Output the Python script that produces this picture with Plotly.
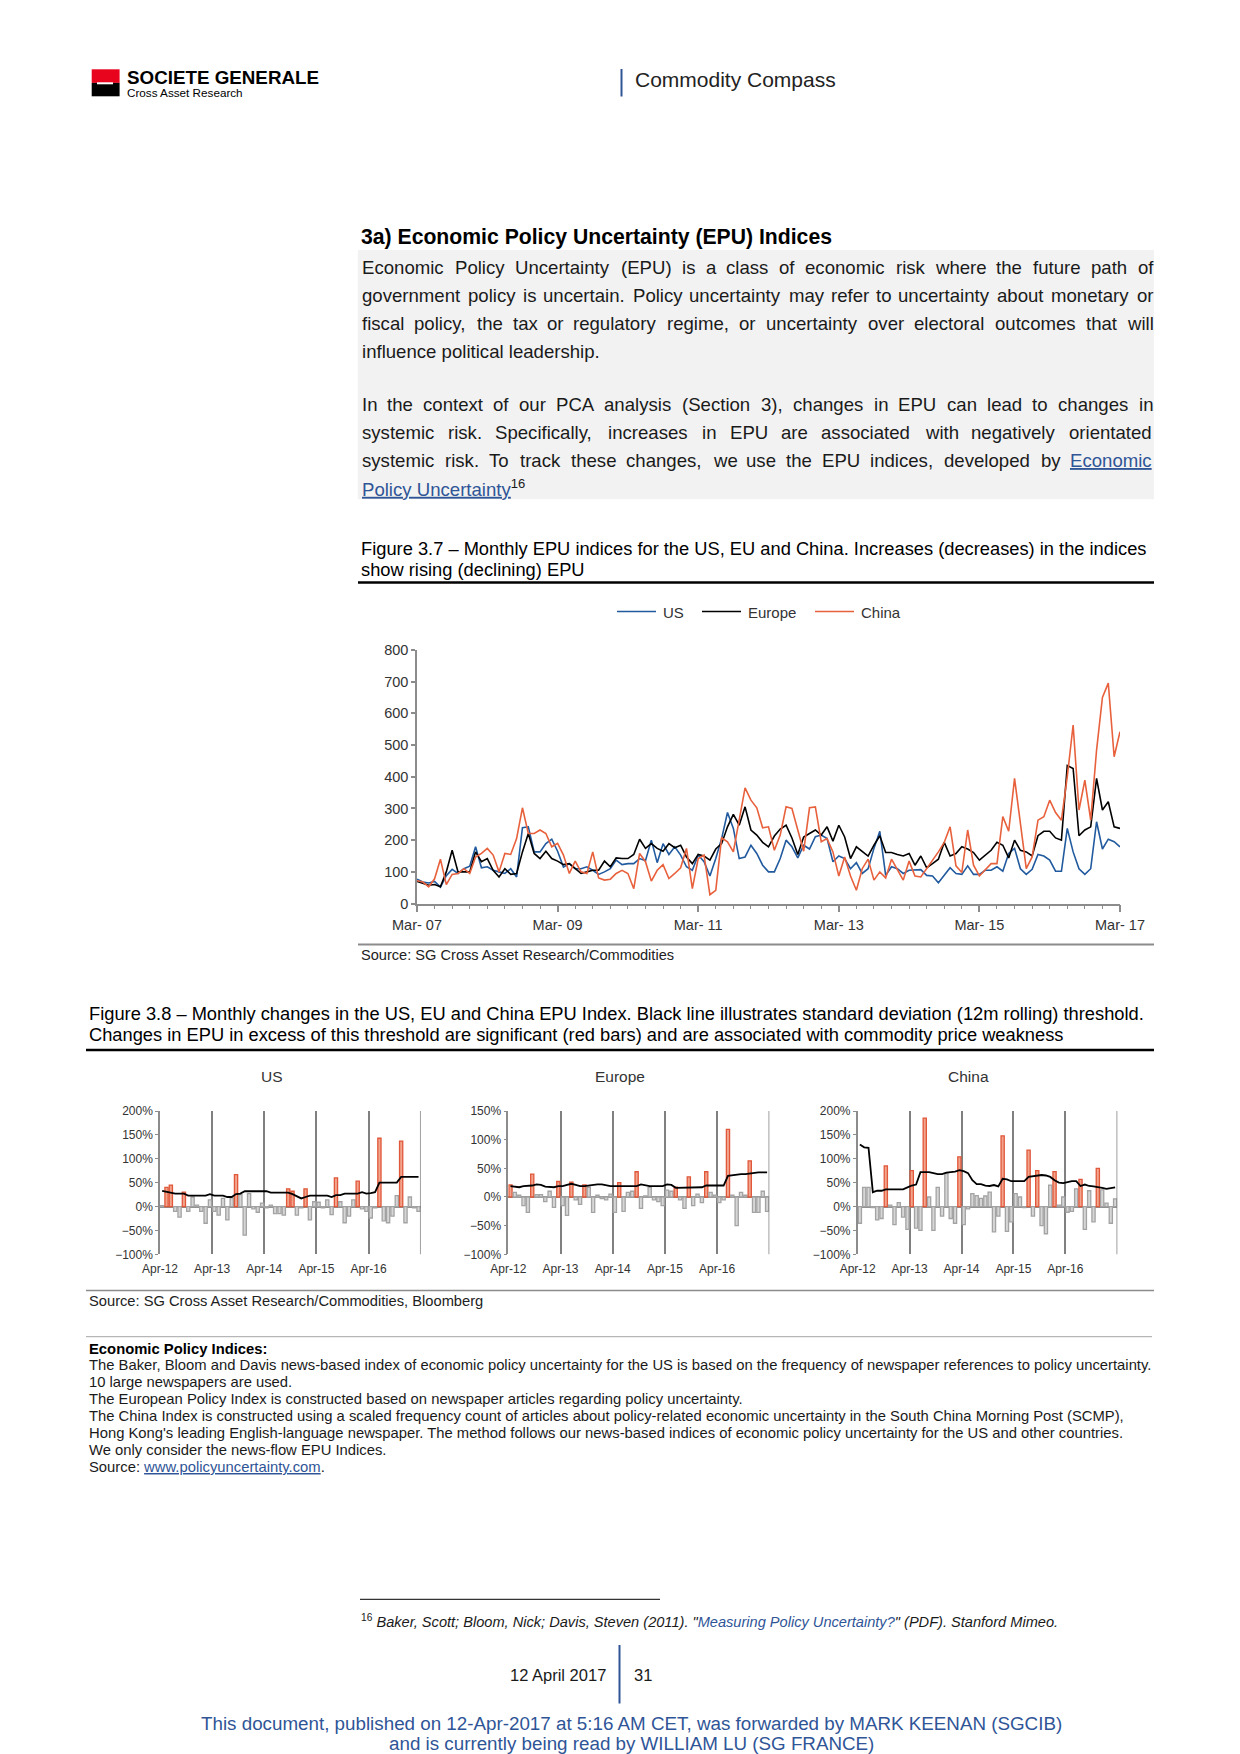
import plotly.graph_objects as go

# ---------------- DATA ----------------
main_months = list(range(121))  # Mar-07 ... Mar-17
main_tick_vals = [0, 24, 48, 72, 96, 120]
main_tick_text = ["Mar- 07", "Mar- 09", "Mar- 11", "Mar- 13", "Mar- 15", "Mar- 17"]

us_epu = [77, 68, 65, 70, 52, 88, 108, 95, 110, 118, 179, 113, 116, 105, 100, 95, 110, 84, 239, 242,
          163, 163, 189, 203, 165, 115, 126, 110, 110, 116, 105, 92, 100, 110, 137, 123, 126, 126, 142, 135,
          200, 129, 189, 155, 179, 153, 116, 105, 153, 132, 87, 142, 205, 287, 237, 142, 147, 184, 158, 121,
          100, 100, 142, 200, 179, 144, 184, 172, 211, 216, 205, 132, 150, 142, 110, 129, 95, 110, 174, 228,
          89, 116, 110, 95, 105, 105, 107, 89, 87, 66, 89, 113, 95, 92, 119, 92, 92, 105, 105, 116,
          102, 158, 174, 110, 92, 108, 155, 150, 137, 102, 102, 237, 163, 110, 92, 110, 258, 172, 203, 195,
          179]
europe_epu = [70, 63, 58, 60, 53, 100, 168, 100, 100, 100, 163, 132, 142, 105, 84, 110, 92, 95, 163, 221,
              158, 142, 165, 142, 134, 123, 126, 110, 95, 100, 105, 105, 134, 116, 144, 142, 142, 155, 203, 174,
              189, 174, 165, 189, 176, 184, 147, 126, 155, 150, 137, 172, 189, 242, 281, 247, 305, 232, 216, 193,
              179, 213, 235, 247, 207, 155, 210, 221, 232, 216, 242, 197, 247, 210, 142, 179, 165, 150, 184, 214,
              161, 161, 155, 150, 158, 121, 150, 113, 126, 140, 193, 150, 158, 179, 172, 161, 137, 153, 168, 193,
              184, 144, 200, 168, 163, 150, 214, 228, 228, 207, 200, 435, 426, 214, 232, 242, 395, 295, 321, 242,
              237]
china_epu = [72, 68, 53, 78, 140, 60, 92, 95, 110, 95, 147, 158, 174, 153, 100, 158, 155, 205, 302, 221,
             221, 232, 221, 179, 190, 153, 95, 134, 100, 95, 163, 81, 74, 77, 95, 105, 95, 47, 158, 132,
             71, 105, 123, 79, 95, 113, 174, 47, 142, 153, 28, 42, 207, 195, 163, 263, 365, 326, 302, 239,
             242, 168, 216, 305, 300, 232, 165, 302, 305, 195, 205, 163, 87, 147, 87, 42, 110, 140, 74, 100,
             81, 140, 105, 74, 134, 87, 84, 110, 140, 163, 193, 242, 119, 98, 232, 121, 87, 105, 126, 126,
             274, 228, 395, 253, 110, 147, 263, 274, 326, 287, 263, 400, 563, 295, 389, 263, 484, 650, 695, 463,
             542]

small_tick_vals = [0, 12, 24, 36, 48]
small_tick_text = ["Apr-12", "Apr-13", "Apr-14", "Apr-15", "Apr-16"]

us_change = [2, 40, 45, -10, -22, 30, -10, 20, 3, -10, -35, 14, -10, -18, 17, -28, 18, 67, 25, -60,
             27, -5, -12, 7, -3, 3, -15, -15, -18, 37, 32, -18, -3, 37, -28, 10, 9, -3, 14, -17,
             60, 10, -34, -20, 14, 53, -5, -10, -24, -3, 143, -30, -34, -20, 23, 137, -34, 20, -3, -10]
us_threshold = [33, 31, 28, 27, 27, 27, 23, 23, 23, 23, 23, 26, 23, 23, 23, 20, 20, 26, 27, 32,
                32, 32, 32, 32, 32, 29, 29, 29, 29, 29, 26, 22, 17, 20, 23, 23, 23, 23, 23, 20,
                24, 24, 27, 27, 27, 27, 30, 27, 28, 30, 50, 50, 50, 50, 50, 62, 62, 62, 62, 62]

eu_change = [21, 8, 3, -15, -27, 40, 4, 4, -8, 10, -18, 27, -15, -32, 26, -5, -13, 21, 17, -27,
             3, -3, -5, 5, -27, 25, -25, 8, 10, 44, -20, 2, 17, -5, -8, -15, 12, 10, 17, -5,
             -20, 35, -15, 5, -10, 44, 8, 3, -10, -5, 118, 3, -50, 8, 3, 63, -27, -27, 10, -25]
eu_threshold = [19, 18, 17, 19, 19, 20, 22, 21, 18, 17, 17, 19, 19, 21, 23, 21, 19, 19, 20, 22,
                22, 22, 20, 19, 19, 19, 19, 19, 19, 19, 22, 20, 19, 19, 19, 19, 22, 21, 16, 16,
                17, 17, 17, 17, 17, 20, 20, 20, 20, 20, 37, 38, 40, 40, 40, 41, 43, 43, 43, 43]

cn_change = [-35, 40, 40, -2, -28, -25, 85, 3, -38, 8, -22, -48, 75, -45, -50, 185, 20, -50, 40, -20,
             69, -25, -35, 104, -38, -5, 27, 23, 17, 22, 30, -53, -20, 148, -52, -32, 27, 20, -2, 118,
             -20, 75, -40, -57, 45, 73, 3, 20, -12, -10, 37, 57, -48, 33, -32, 80, 35, 7, -35, 16]
cn_threshold = [130, 124, 123, 30, 33, 33, 36, 36, 36, 36, 36, 40, 44, 46, 72, 72, 72, 70, 68, 68,
                71, 72, 73, 76, 74, 70, 55, 47, 47, 44, 43, 45, 42, 58, 57, 53, 53, 53, 53, 62,
                63, 65, 66, 65, 62, 55, 50, 49, 51, 53, 53, 43, 46, 43, 42, 41, 39, 37, 39, 40]

# ---------------- PAGE GEOMETRY ----------------
W, H = 1240, 1754
FONT = "Liberation Sans, Arial, Helvetica, sans-serif"
TXT = "#1a1a1a"
BLUE = "#2F5597"
US_C, EU_C, CN_C = "#215A9E", "#000000", "#E8613D"


def px(x):
    return x / W


def py(y):
    return 1 - y / H


HELV = {' ': 278, '!': 278, '"': 355, '%': 889, "'": 191, '(': 333, ')': 333, ',': 278, '-': 333,
        '.': 278, '/': 278, ':': 278, ';': 278, '?': 556,
        'A': 667, 'B': 667, 'C': 722, 'D': 722, 'E': 667, 'F': 611, 'G': 778, 'H': 722, 'I': 278,
        'J': 500, 'K': 667, 'L': 556, 'M': 833, 'N': 722, 'O': 778, 'P': 667, 'Q': 778, 'R': 722,
        'S': 667, 'T': 611, 'U': 722, 'V': 667, 'W': 944, 'X': 667, 'Y': 667, 'Z': 611,
        'a': 556, 'b': 556, 'c': 500, 'd': 556, 'e': 556, 'f': 278, 'g': 556, 'h': 556, 'i': 222,
        'j': 222, 'k': 500, 'l': 222, 'm': 833, 'n': 556, 'o': 556, 'p': 556, 'q': 556, 'r': 333,
        's': 500, 't': 278, 'u': 556, 'v': 500, 'w': 722, 'x': 500, 'y': 500, 'z': 500}


def tw(s, size):
    return sum(HELV.get(c, 556) for c in s) / 1000.0 * size * 1.02


annotations = []
shapes = []


def txt(x, y, s, size, color=TXT, anchor="left", family=FONT):
    annotations.append(dict(x=px(x), y=py(y), xref="paper", yref="paper", text=s, showarrow=False,
                            xanchor=anchor, yanchor="middle", borderpad=0,
                            font=dict(family=family, size=size, color=color)))


def hline(x0, x1, y, color, width):
    shapes.append(dict(type="line", xref="paper", yref="paper", x0=px(x0), x1=px(x1), y0=py(y), y1=py(y),
                       line=dict(color=color, width=width)))


def vline(x, y0, y1, color, width):
    shapes.append(dict(type="line", xref="paper", yref="paper", x0=px(x), x1=px(x), y0=py(y0), y1=py(y1),
                       line=dict(color=color, width=width)))


def rect(x0, y0, x1, y1, color):
    shapes.append(dict(type="rect", xref="paper", yref="paper", x0=px(x0), x1=px(x1), y0=py(y1), y1=py(y0),
                       fillcolor=color, line=dict(width=0), layer="below"))


LINK = "color:%s;text-decoration:underline" % BLUE


def justify(words, x0, x1, y, size):
    widths = [tw(w[0], size) for w in words]
    gap = (x1 - x0 - sum(widths)) / (len(words) - 1)
    x = x0
    for (w, style), wd in zip(words, widths):
        s = w if style is None else "<span style='%s'>%s</span>" % (style, w)
        txt(x, y, s, size)
        x += wd + gap


def plain(line):
    return [(w, None) for w in line.split(" ")]


# ---------------- HEADER ----------------
rect(91.7, 69.3, 119.6, 82.9, "#E9041E")
rect(91.7, 82.9, 119.6, 96.3, "#000000")
hline(97, 113, 83.3, "#FFFFFF", 2)
txt(126, 77.5, "<b>SOCIETE GENERALE</b>", 18.8, "#000000")
txt(126, 92, "Cross Asset Research", 11.7, "#000000")
vline(621.5, 69, 96.5, BLUE, 2)
txt(634, 79.5, "Commodity Compass", 21, "#222222")

# ---------------- SECTION TEXT ----------------
txt(360, 237.3, "<b>3a) Economic Policy Uncertainty (EPU) Indices</b>", 21.2, "#000000")
rect(357.8, 250, 1153.9, 499.3, "#F2F2F2")
X0, X1 = 360.5, 1152.5
PS = 18.6
justify(plain("Economic Policy Uncertainty (EPU) is a class of economic risk where the future path of"), X0, X1, 267.7, PS)
justify(plain("government policy is uncertain. Policy uncertainty may refer to uncertainty about monetary or"), X0, X1, 295.8, PS)
justify(plain("fiscal policy, the tax or regulatory regime, or uncertainty over electoral outcomes that will"), X0, X1, 323.9, PS)
txt(X0, 351.7, "influence political leadership.", PS)
justify(plain("In the context of our PCA analysis (Section 3), changes in EPU can lead to changes in"), X0, X1, 404.3, PS)
justify(plain("systemic risk. Specifically, increases in EPU are associated with negatively orientated"), X0, X1, 432.5, PS)
justify(plain("systemic risk. To track these changes, we use the EPU indices, developed by") + [("Economic", LINK)],
        X0, X1, 460.7, PS)
txt(X0, 488.5, "<span style='%s'>Policy Uncertainty</span><sup>16</sup>" % LINK, PS)

# ---------------- FIGURE 3.7 CAPTION / FRAME ----------------
CAP = 18.3
txt(360, 548.5, "Figure 3.7 – Monthly EPU indices for the US, EU and China. Increases (decreases) in the indices", CAP, "#000000")
txt(360, 569.3, "show rising (declining) EPU", CAP, "#000000")
hline(358, 1154, 582.5, "#000000", 2.5)
hline(358, 1154, 944.5, "#8C8C8C", 2)
txt(360, 954.5, "Source: SG Cross Asset Research/Commodities", 14.6, "#222222")

for (lx, label, col) in [(617, "US", US_C), (702, "Europe", EU_C), (815, "China", CN_C)]:
    hline(lx, lx + 39, 611.5, col, 1.5)
    txt(lx + 45, 612, label, 15, "#333333")

# ---------------- FIGURE 3.8 CAPTION / FRAME ----------------
txt(88, 1013, "Figure 3.8 – Monthly changes in the US, EU and China EPU Index. Black line illustrates standard deviation (12m rolling) threshold.", CAP, "#000000")
txt(88, 1034.5, "Changes in EPU in excess of this threshold are significant (red bars) and are associated with commodity price weakness", CAP, "#000000")
hline(86, 1154, 1050, "#000000", 2.5)
txt(272, 1076, "US", 15.5, "#333333", anchor="center")
txt(620, 1076, "Europe", 15.5, "#333333", anchor="center")
txt(968, 1076, "China", 15.5, "#333333", anchor="center")
hline(86, 1154, 1290.5, "#8C8C8C", 1.5)
txt(88, 1300.5, "Source: SG Cross Asset Research/Commodities, Bloomberg", 14.7, "#222222")

# ---------------- NOTES ----------------
hline(86, 1152, 1336.7, "#A6A6A6", 1)
NS = 14.8
txt(88, 1348.5, "<b>Economic Policy Indices:</b>", NS, "#000000")
notes = [
    "The Baker, Bloom and Davis news-based index of economic policy uncertainty for the US is based on the frequency of newspaper references to policy uncertainty.",
    "10 large newspapers are used.",
    "The European Policy Index is constructed based on newspaper articles regarding policy uncertainty.",
    "The China Index is constructed using a scaled frequency count of articles about policy-related economic uncertainty in the South China Morning Post (SCMP),",
    "Hong Kong's leading English-language newspaper. The method follows our news-based indices of economic policy uncertainty for the US and other countries.",
    "We only consider the news-flow EPU Indices.",
    "Source: <span style='%s'>www.policyuncertainty.com</span>." % LINK,
]
for k, line in enumerate(notes):
    txt(88, 1364.5 + k * 17.0, line, NS, "#1a1a1a")

# ---------------- FOOTNOTE / FOOTER ----------------
hline(360, 660, 1599.3, "#000000", 1)
txt(360, 1620.5, "<sup>16</sup> <i>Baker, Scott; Bloom, Nick; Davis, Steven (2011). \"<span style='color:%s'>Measuring Policy Uncertainty?</span>\" (PDF). Stanford Mimeo.</i>" % BLUE, 14.6, "#1a1a1a")
vline(619.5, 1645, 1703.5, BLUE, 2)
txt(607, 1674.5, "12 April 2017", 16.5, "#1a1a1a", anchor="right")
txt(633, 1674.5, "31", 16.5, "#1a1a1a")
txt(631, 1723.5, "This document, published on 12-Apr-2017 at 5:16 AM CET, was forwarded by MARK KEENAN (SGCIB)", 18.8, BLUE, anchor="center")
txt(631, 1743.5, "and is currently being read by WILLIAM LU (SG FRANCE)", 18.8, BLUE, anchor="center")

# ---------------- TRACES ----------------
fig = go.Figure()
for name, vals, col in [("US", us_epu, US_C), ("Europe", europe_epu, EU_C), ("China", china_epu, CN_C)]:
    fig.add_trace(go.Scatter(x=main_months, y=vals, mode="lines", name=name, showlegend=False,
                             line=dict(color=col, width=1.6), xaxis="x", yaxis="y"))

small_sets = [(us_change, us_threshold, "x2", "y2"),
              (eu_change, eu_threshold, "x3", "y3"),
              (cn_change, cn_threshold, "x4", "y4")]
for chg, thr, xa, ya in small_sets:
    xs = [i + 0.5 for i in range(len(chg))]
    fills = ["#F2A48C" if v > t else "#D6D6D6" for v, t in zip(chg, thr)]
    edges = ["#E0573A" if v > t else "#A3A3A3" for v, t in zip(chg, thr)]
    fig.add_trace(go.Bar(x=xs, y=chg, width=0.74, showlegend=False, xaxis=xa, yaxis=ya,
                         marker=dict(color=fills, line=dict(color=edges, width=1.3))))
    fig.add_trace(go.Scatter(x=xs, y=thr, mode="lines", showlegend=False, xaxis=xa, yaxis=ya,
                             line=dict(color="#000000", width=1.8)))
    shapes.append(dict(type="line", xref=xa, yref=ya + " domain", x0=60, x1=60, y0=0, y1=1,
                       line=dict(color="#808080", width=1.5)))

AX = "#8C8C8C"
tickfont_main = dict(family=FONT, size=14.5, color="#333333")
tickfont_small = dict(family=FONT, size=12, color="#333333")

layout = dict(
    width=W, height=H, autosize=False,
    margin=dict(l=0, r=0, t=0, b=0, pad=0, autoexpand=False),
    paper_bgcolor="white", plot_bgcolor="rgba(0,0,0,0)", showlegend=False,
    font=dict(family=FONT),
    annotations=annotations, shapes=shapes,
    xaxis=dict(domain=[px(417), px(1120)], anchor="y", range=[0, 120], tickmode="array",
               tickvals=main_tick_vals, ticktext=main_tick_text, ticks="outside", ticklen=7,
               tickcolor=AX, tickwidth=1.5, showline=True, linecolor=AX, linewidth=1.5,
               showgrid=False, zeroline=False, tickfont=tickfont_main, automargin=False,
               minor=dict(dtick=3, tick0=0, ticks="outside", ticklen=4, tickcolor=AX, tickwidth=1.2,
                          showgrid=False)),
    yaxis=dict(domain=[py(903.6), py(649.8)], anchor="x", range=[0, 800], dtick=100, ticks="outside",
               ticklen=4, tickcolor=AX, tickwidth=1.5, showline=True, linecolor=AX, linewidth=1.5,
               showgrid=False, zeroline=False, tickfont=tickfont_main, automargin=False),
)

small_geom = [("xaxis2", "yaxis2", "x2", "y2", 160.0, 420.7, [-100, 200]),
              ("xaxis3", "yaxis3", "x3", "y3", 508.3, 769.3, [-100, 150]),
              ("xaxis4", "yaxis4", "x4", "y4", 857.7, 1117.3, [-100, 200])]
for xk, yk, xa, ya, x0, x1, yr in small_geom:
    layout[xk] = dict(domain=[px(x0), px(x1)], anchor=ya, range=[0, 60], tickmode="array",
                      tickvals=small_tick_vals, ticktext=small_tick_text, ticks="", showline=False,
                      showgrid=True, gridcolor="#808080", gridwidth=1.5, zeroline=False,
                      tickfont=tickfont_small, ticklabelstandoff=6, automargin=False)
    layout[yk] = dict(domain=[py(1254.3), py(1111)], anchor=xa, range=yr, dtick=50, ticksuffix="%",
                      ticks="outside", ticklen=3, tickcolor=AX, showline=True, linecolor=AX, linewidth=1.5,
                      showgrid=False, zeroline=True, zerolinecolor=AX, zerolinewidth=1.5,
                      tickfont=tickfont_small, automargin=False)

fig.update_layout(**layout)

fig.write_html("out.html", config={"displayModeBar": False},
               post_script="document.body.style.margin='0px';document.body.style.overflow='hidden';")
